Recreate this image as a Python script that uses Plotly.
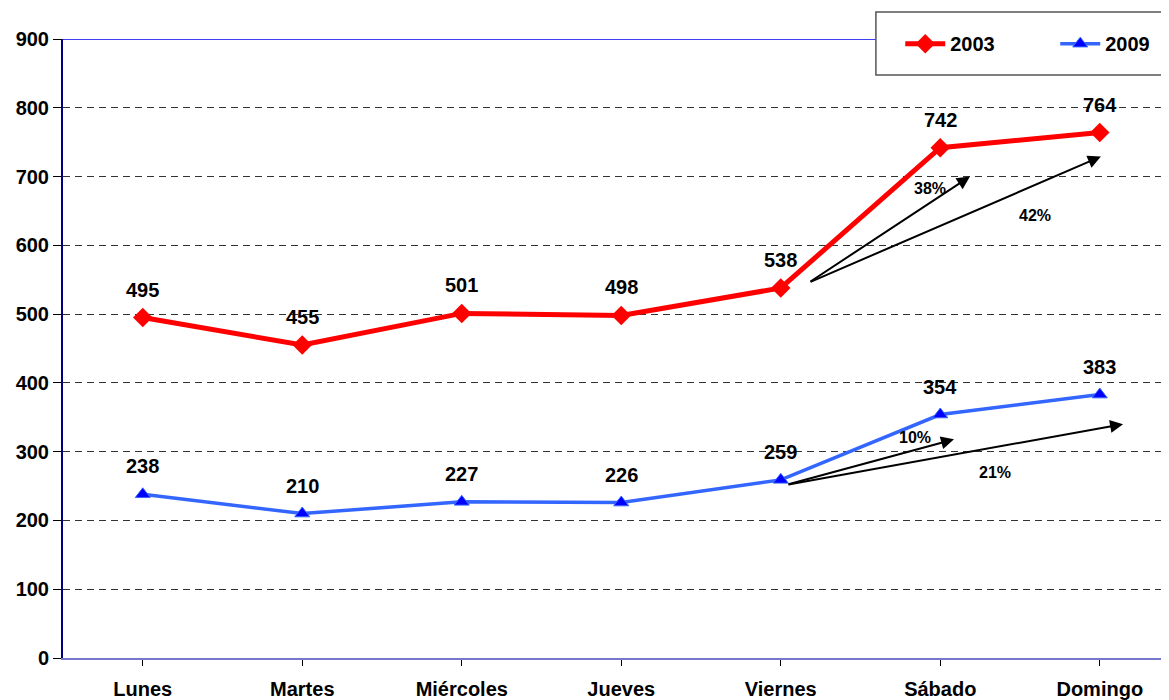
import plotly.graph_objects as go

days = ["Lunes", "Martes", "Miércoles", "Jueves", "Viernes", "Sábado", "Domingo"]
y2003 = [495, 455, 501, 498, 538, 742, 764]
y2009 = [238, 210, 227, 226, 259, 354, 383]
yticks = [0, 100, 200, 300, 400, 500, 600, 700, 800, 900]

# growth arrows: (start x, start y, end x, end y) in data units
arrows = [
    (4.177, 546, 5.186, 700),
    (4.177, 546, 6.007, 729),
    (4.039, 252, 5.086, 318),
    (4.039, 252, 6.146, 340),
]
pct_labels = ["38%", "42%", "10%", "21%"]
pct_x = [4.936, 5.594, 4.842, 5.343]
pct_y = [683, 644, 321, 270]

FONT = "Arial, Liberation Sans, sans-serif"

fig = go.Figure()
fig.add_trace(go.Scatter(
    x=list(range(len(days))), y=y2003, name="2003", mode="lines+markers",
    line=dict(color="#FF0000", width=5),
    marker=dict(symbol="diamond", size=15, color="#FF0000"),
    cliponaxis=False,
))
fig.add_trace(go.Scatter(
    x=list(range(len(days))), y=y2009, name="2009", mode="lines+markers",
    line=dict(color="#3366FF", width=3.5),
    marker=dict(symbol="triangle-up", size=13, color="#0000FF",
                line=dict(color="#3366FF", width=1)),
    cliponaxis=False,
))

annotations = []
for series in (y2003, y2009):
    for i, v in enumerate(series):
        annotations.append(dict(
            x=i, y=v, xref="x", yref="y", text=str(v), showarrow=False,
            yshift=28, font=dict(family=FONT, size=20, color="black", weight="bold"),
        ))
for (x0, y0, x1, y1) in arrows:
    annotations.append(dict(
        x=x1, y=y1, ax=x0, ay=y0, xref="x", yref="y", axref="x", ayref="y",
        text="", showarrow=True, arrowhead=2, arrowsize=1.3, arrowwidth=2,
        arrowcolor="black",
    ))
for t, x, y in zip(pct_labels, pct_x, pct_y):
    annotations.append(dict(
        x=x, y=y, xref="x", yref="y", text=t, showarrow=False,
        font=dict(family=FONT, size=16, color="black", weight="bold"),
    ))

shapes = [
    dict(type="line", xref="paper", yref="y", x0=0, x1=1, y0=900, y1=900,
         line=dict(color="#0000EE", width=1.5), layer="above"),
    dict(type="rect", xref="paper", yref="paper", x0=0.735, x1=1.05,
         y0=0.9418, y1=1.0436, fillcolor="white",
         line=dict(color="#555555", width=1.5), layer="above"),
]

fig.update_layout(
    width=1169, height=700,
    margin=dict(l=55, r=8, t=31, b=50, autoexpand=False),
    plot_bgcolor="white", paper_bgcolor="white",
    font=dict(family=FONT, size=20, color="black"),
    showlegend=True,
    legend=dict(orientation="h", x=0.757, y=1.024, xanchor="left", yanchor="top",
                bgcolor="rgba(0,0,0,0)", borderwidth=0,
                font=dict(family=FONT, size=20, color="black", weight="bold"),
                entrywidth=100, entrywidthmode="pixels", itemwidth=40),
    annotations=annotations,
    shapes=shapes,
    xaxis=dict(
        range=[-0.5, 6.434], tickmode="array", tickvals=list(range(len(days))),
        ticktext=days, tickson="boundaries", ticks="outside", ticklen=6,
        tickcolor="black", showgrid=False, zeroline=False,
        showline=True, linecolor="#7777CC", linewidth=2,
        tickfont=dict(family=FONT, size=20, color="black", weight="bold"),
        ticklabelstandoff=6, automargin=False,
    ),
    yaxis=dict(
        range=[0, 900], tickmode="array", tickvals=yticks,
        ticks="outside", ticklen=8, tickcolor="black",
        showgrid=True, gridcolor="#333333", griddash="7px,5px", gridwidth=1,
        zeroline=False, showline=True, linecolor="#000080", linewidth=2,
        tickfont=dict(family=FONT, size=20, color="black", weight="bold"),
        automargin=False,
    ),
)

fig.write_html(
    "out.html",
    post_script="document.documentElement.style.overflow='hidden';"
                "document.body.style.overflow='hidden';",
)
